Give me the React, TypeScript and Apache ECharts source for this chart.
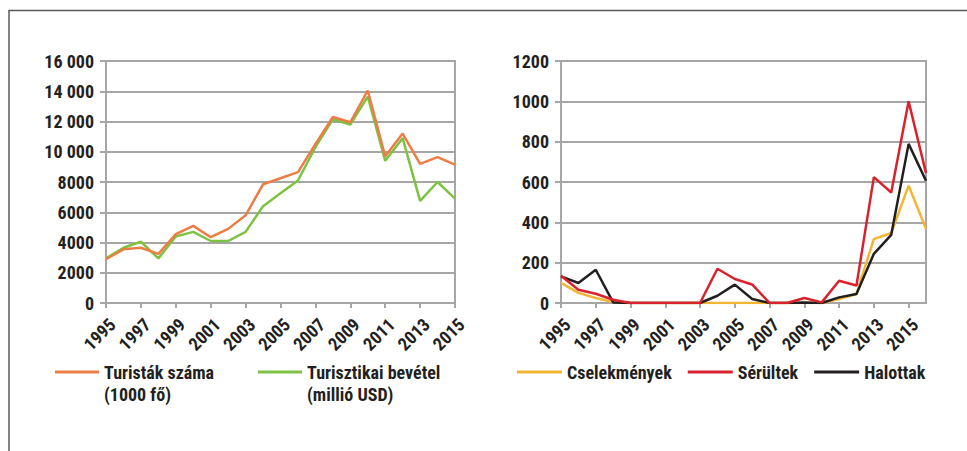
import React, { useEffect, useRef } from "react";
import * as echarts from "echarts";

const leftYears = ["1995","1996","1997","1998","1999","2000","2001","2002","2003","2004","2005","2006","2007","2008","2009","2010","2011","2012","2013","2014","2015"];
const turistakSzama = [2900,3550,3650,3250,4550,5100,4350,4900,5800,7850,8250,8650,10500,12300,11950,14050,9700,11200,9200,9650,9150];
const turisztikaiBevetel = [2950,3650,4050,2950,4400,4700,4100,4100,4700,6400,7250,8100,10300,12150,11800,13650,9400,10900,6750,8000,6900];

const rightYears = ["1995","1996","1997","1998","1999","2000","2001","2002","2003","2004","2005","2006","2007","2008","2009","2010","2011","2012","2013","2014","2015","2016"];
const cselekmenyek = [100,50,25,5,0,0,0,0,0,0,0,0,0,0,0,0,20,45,317,347,582,368];
const serultek = [135,66,46,16,0,0,0,0,0,170,119,92,0,0,25,3,110,87,624,548,1000,644];
const halottak = [132,99,165,3,0,0,0,0,0,36,91,20,0,0,3,0,28,45,244,338,789,606];

const FONT = "'Liberation Sans Narrow', 'Arial Narrow', 'Roboto Condensed', 'DejaVu Sans Condensed', 'Liberation Sans', sans-serif";
const TXT = "#231f20";
const GRID = "#a6a6a6";

function fmtThousands(v: number) {
  if (v >= 10000) {
    const s = String(v);
    return s.slice(0, s.length - 3) + " " + s.slice(s.length - 3);
  }
  return String(v);
}

export default function App() {
  const ref = useRef<HTMLDivElement>(null);
  useEffect(() => {
    if (!ref.current) return;
    const chart = echarts.init(ref.current, undefined, { renderer: "svg" });
    const axisLabelBase = { fontFamily: FONT, fontWeight: "bold" as const, fontSize: 18, color: TXT };
    const xAxisCommon = {
      type: "category" as const,
      boundaryGap: false,
      axisLine: { lineStyle: { color: GRID, width: 2 } },
      axisTick: { show: true, interval: 1, length: 5, lineStyle: { color: GRID, width: 2 } },
      axisLabel: {
        ...axisLabelBase, rotate: 45, interval: 1, margin: 12,
        formatter: (v: string) => `{a|${v}}`,
        rich: { a: { ...axisLabelBase, padding: [18, 0, 0, 0] } },
      },
      splitLine: { show: false },
    };
    const yAxisCommon = {
      type: "value" as const,
      axisLine: { show: true, lineStyle: { color: GRID, width: 2 } },
      axisTick: { show: true, length: 6, lineStyle: { color: GRID, width: 2 } },
      splitLine: { lineStyle: { color: GRID, width: 2 } },
    };
    const legendText = { fontFamily: FONT, fontWeight: "bold" as const, fontSize: 18, color: TXT };
    chart.setOption({
      animation: false,
      backgroundColor: "#ffffff",
      grid: [
        { left: 106, right: 512, top: 61, bottom: 148, show: true, borderColor: GRID, borderWidth: 2 },
        { left: 561, right: 41, top: 61, bottom: 148, show: true, borderColor: GRID, borderWidth: 2 },
      ],
      xAxis: [
        { ...xAxisCommon, gridIndex: 0, data: leftYears },
        { ...xAxisCommon, gridIndex: 1, data: rightYears },
      ],
      yAxis: [
        { ...yAxisCommon, gridIndex: 0, min: 0, max: 16000, interval: 2000,
          axisLabel: { ...axisLabelBase, margin: 12, formatter: (v: number) => fmtThousands(v) } },
        { ...yAxisCommon, gridIndex: 1, min: 0, max: 1200, interval: 200,
          axisLabel: { ...axisLabelBase, margin: 12, formatter: (v: number) => String(v) } },
      ],
      legend: [
        {
          left: 50, top: 334, itemWidth: 44, itemHeight: 3, icon: "rect",
          data: ["Turisták száma\n(1000 fő)"],
          formatter: (n: string) => "\n" + n,
          textStyle: { ...legendText, lineHeight: 22 },
        },
        {
          left: 253, top: 334, itemWidth: 44, itemHeight: 3, icon: "rect",
          data: ["Turisztikai bevétel\n(millió USD)"],
          formatter: (n: string) => "\n" + n,
          textStyle: { ...legendText, lineHeight: 22 },
        },
        {
          left: 512, top: 357, itemWidth: 45, itemHeight: 3, icon: "rect", itemGap: 16,
          data: ["Cselekmények", "Sérültek", "Halottak"],
          textStyle: { ...legendText, lineHeight: 20 },
        },
      ],
      graphic: [
        { type: "rect", shape: { x: 9, y: 10.5, width: 1100, height: 600 }, style: { fill: "none", stroke: "#5a5a5a", lineWidth: 1.5 }, silent: true },
      ],
      series: [
        { name: "Turisták száma\n(1000 fő)", type: "line", xAxisIndex: 0, yAxisIndex: 0, data: turistakSzama, showSymbol: false, symbol: "none", lineStyle: { color: "#ec7d45", width: 2.5 }, itemStyle: { color: "#ec7d45" }, z: 3 },
        { name: "Turisztikai bevétel\n(millió USD)", type: "line", xAxisIndex: 0, yAxisIndex: 0, data: turisztikaiBevetel, showSymbol: false, symbol: "none", lineStyle: { color: "#7dc242", width: 2.5 }, itemStyle: { color: "#7dc242" }, z: 2 },
        { name: "Cselekmények", type: "line", xAxisIndex: 1, yAxisIndex: 1, data: cselekmenyek, showSymbol: false, symbol: "none", lineStyle: { color: "#f2b534", width: 2.5 }, itemStyle: { color: "#f2b534" }, z: 2 },
        { name: "Sérültek", type: "line", xAxisIndex: 1, yAxisIndex: 1, data: serultek, showSymbol: false, symbol: "none", lineStyle: { color: "#d8232f", width: 2.5 }, itemStyle: { color: "#d8232f" }, z: 4 },
        { name: "Halottak", type: "line", xAxisIndex: 1, yAxisIndex: 1, data: halottak, showSymbol: false, symbol: "none", lineStyle: { color: "#231f20", width: 2.5 }, itemStyle: { color: "#231f20" }, z: 3 },
      ],
    });
    return () => chart.dispose();
  }, []);
  return <div ref={ref} style={{ position: "fixed", left: 0, top: 0, width: 967, height: 451 }} />;
}
